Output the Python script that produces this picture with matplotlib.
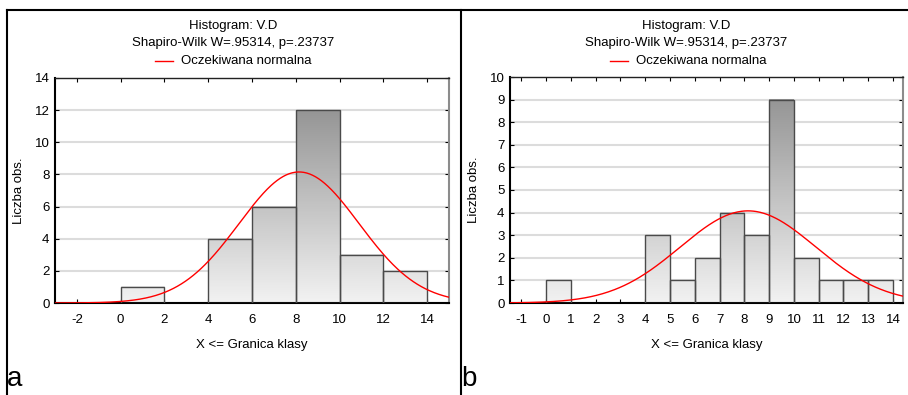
import numpy as np
import matplotlib
matplotlib.use("Agg")
import matplotlib.pyplot as plt
from matplotlib.colors import LinearSegmentedColormap
from matplotlib.lines import Line2D

plt.rcParams["font.family"] = ["Liberation Sans", "DejaVu Sans"]
plt.rcParams["axes.unicode_minus"] = False

# panel a: class width 2
edges_a = [0, 4, 6, 8, 10, 12]
counts_a = [1, 4, 6, 12, 3, 2]
# panel b: class width 1
edges_b = [0, 4, 5, 6, 7, 8, 9, 10, 11, 12, 13]
counts_b = [1, 3, 1, 2, 4, 3, 9, 2, 1, 1, 1]

n_obs = 28
mean_fit = 8.15
sd_fit = 2.74

title1 = "Histogram: V.D"
title2 = "Shapiro-Wilk W=.95314, p=.23737"
legend_txt = "Oczekiwana normalna"
xlab = "X <= Granica klasy"
ylab = "Liczba obs."

W, H = 908, 395
fs = 9.5
fig = plt.figure(figsize=(W / 100, H / 100), dpi=100)

cmap = LinearSegmentedColormap.from_list("g", ["#f2f2f2", "#969696"])


def px(x, y):
    return x / W, 1 - y / H


def panel(rect, edges, counts, width, xlim, ylim, yticks, xticks, cx, leg_x):
    ax = fig.add_axes(rect)
    vmax = max(counts)
    for x0, c in zip(edges, counts):
        grad = np.linspace(0, c, 100).reshape(-1, 1)
        ax.imshow(grad, extent=(x0, x0 + width, 0, c), origin="lower", aspect="auto",
                  cmap=cmap, vmin=0, vmax=vmax, zorder=2)
        ax.bar(x0, c, width=width, align="edge", facecolor="none",
               edgecolor="#4a4a4a", linewidth=1.0, zorder=3)
    xs = np.linspace(xlim[0], xlim[1], 400)
    ys = n_obs * width / (sd_fit * np.sqrt(2 * np.pi)) * np.exp(-0.5 * ((xs - mean_fit) / sd_fit) ** 2)
    ax.plot(xs, ys, color="#ff0000", linewidth=1.0, zorder=4)
    ax.set_xlim(*xlim)
    ax.set_ylim(*ylim)
    ax.set_xticks(xticks)
    ax.set_yticks(yticks)
    ax.yaxis.grid(True, color="#dcdcdc", linewidth=1.5, zorder=0)
    ax.set_axisbelow(True)
    ax.tick_params(direction="in", length=3, top=True, right=True, labelsize=fs,
                   colors="#000000", width=0.8)
    ax.tick_params(axis="x", pad=8)
    ax.tick_params(axis="y", pad=4)
    for s in ["left", "bottom"]:
        ax.spines[s].set_color("#000000")
        ax.spines[s].set_linewidth(1.5)
    ax.spines["top"].set_color("#222222")
    ax.spines["top"].set_linewidth(1.0)
    ax.spines["right"].set_color("#8c8c8c")
    ax.spines["right"].set_linewidth(1.5)
    ax.set_xlabel(xlab, fontsize=fs, labelpad=9)
    ax.set_ylabel(ylab, fontsize=fs, labelpad=7)
    # titles and legend, centred on the panel
    fig.text(*px(cx, 26), title1, ha="center", va="center", fontsize=fs)
    fig.text(*px(cx, 43), title2, ha="center", va="center", fontsize=fs)
    fig.add_artist(Line2D([leg_x / W, (leg_x + 18) / W], [1 - 61 / H, 1 - 61 / H],
                          color="#ff0000", linewidth=1.0))
    fig.text(*px(leg_x + 26, 61), legend_txt, ha="left", va="center", fontsize=fs)
    return ax


panel([55 / W, 1 - 303 / H, 394 / W, 225 / H], edges_a, counts_a, 2,
      (-3, 15), (0, 14), range(0, 15, 2), range(-2, 15, 2), 233, 155)
panel([510 / W, 1 - 303 / H, 393 / W, 226 / H], edges_b, counts_b, 1,
      (-1.45, 14.4), (0, 10), range(0, 11), range(-1, 15), 686, 610)

# frame lines
lw = 1.5
fig.add_artist(Line2D([7 / W, 1], [1 - 10 / H, 1 - 10 / H], color="black", linewidth=lw))
fig.add_artist(Line2D([7 / W, 7 / W], [0, 1 - 10 / H], color="black", linewidth=lw))
fig.add_artist(Line2D([461 / W, 461 / W], [0, 1 - 10 / H], color="black", linewidth=lw))

fig.text(*px(7, 386), "a", ha="left", va="baseline", fontsize=20)
fig.text(*px(461, 386), "b", ha="left", va="baseline", fontsize=20)

fig.savefig("out.png", dpi=100)
